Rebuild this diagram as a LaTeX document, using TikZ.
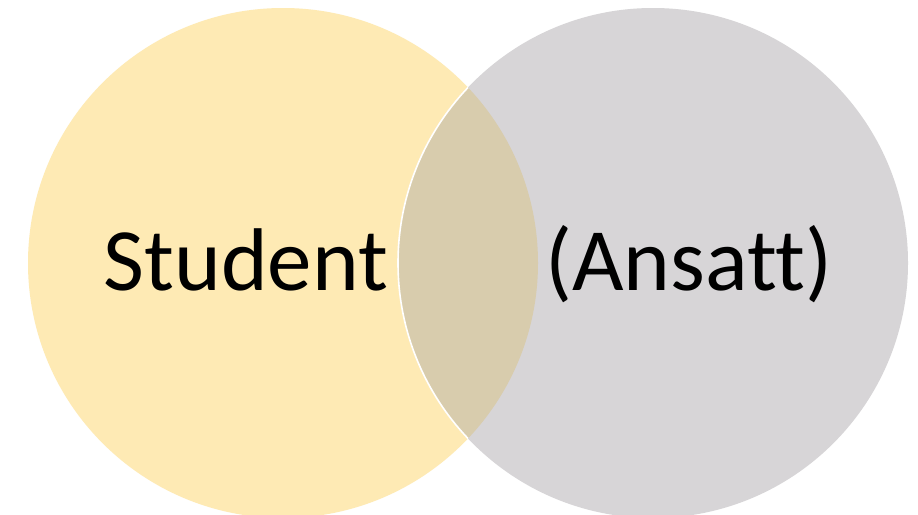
\documentclass[tikz,border=0pt]{standalone}
\usepackage{fontspec}
\setmainfont[Ligatures={NoCommon}]{Carlito}
\definecolor{vyellow}{HTML}{FEEAB4}
\definecolor{vgray}{HTML}{D7D5D7}
\definecolor{voverlap}{HTML}{D8CCAD}
\tikzset{
  lbl/.style={font=\fontsize{89}{100}\selectfont, text=black, anchor=base, inner sep=0pt}
}
\begin{document}
\begin{tikzpicture}[x=1pt,y=-1pt]
\useasboundingbox (0,0) rectangle (918,514);
\fill[white] (0,0) rectangle (918,514);
\coordinate (cl) at (283,263);
\coordinate (cr) at (653,263);
\fill[vyellow] (cl) circle (255);
\fill[vgray] (cr) circle (255);
\begin{scope}
  \clip (cl) circle (255);
  \fill[voverlap] (cr) circle (255);
  \draw[white, line width=1.6pt] (cr) circle (255);
\end{scope}
\node[lbl] (student) at (246,290) {Student};
\node[lbl] (ansatt) at (689,290) {(Ansatt)};
\end{tikzpicture}
\end{document}
